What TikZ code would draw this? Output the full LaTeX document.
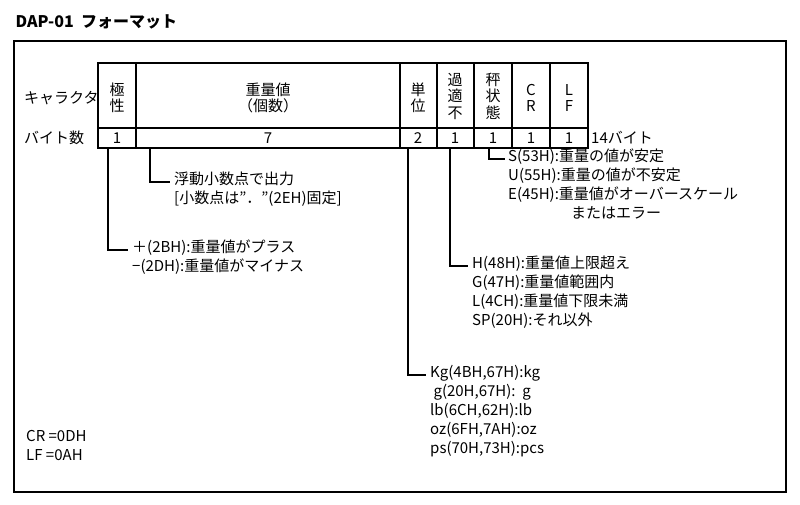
\documentclass[tikz,border=0pt]{standalone}
\usepackage{fontspec}
\setmainfont{Noto Sans CJK JP}
\usetikzlibrary{positioning}
\tikzset{
  lbl/.style={anchor=north west, inner sep=0pt, align=left, font=\fontsize{15}{19}\selectfont},
  cell/.style={font=\fontsize{15}{16.5}\selectfont, align=center, inner sep=0pt},
  lead/.style={line width=1.3pt}
}
\begin{document}
\begin{tikzpicture}[x=1pt,y=-1pt]
\useasboundingbox (0,0) rectangle (800,505);
\node[anchor=west, font=\bfseries\fontsize{16}{18}\selectfont] (title) at (12,22) {DAP-01\ \ フォーマット};
\draw[line width=1.3pt] (14,41) rectangle (786,492);
% table
\draw[line width=1.8pt] (98,63) rectangle (588,148);
\draw[line width=1.8pt] (98,128) -- (588,128);
\foreach \x in {136,400,437,474,512,550} \draw[line width=1.3pt] (\x,63) -- (\x,148);
% header row
\node[lbl, anchor=west] (hdchar) at (24,98) {キャラクタ};
\node[lbl, anchor=west] (hdbyte) at (24,138) {バイト数};
\node[cell] (pol) at (117,98) {極\\性};
\node[cell] (wt) at (268,98) {重量値\\（個数）};
\node[cell] (unit) at (418,98) {単\\位};
\node[cell] (ovr) at (455,96) {過\\適\\不};
\node[cell] (st) at (493,96) {秤\\状\\態};
\node[cell] (cr) at (531,98) {C\\R};
\node[cell] (lf) at (569,98) {L\\F};
\node[cell] (b1) at (117,138) {1};
\node[cell] (b2) at (268,138) {7};
\node[cell] (b3) at (418,138) {2};
\node[cell] (b4) at (455,138) {1};
\node[cell] (b5) at (493,138) {1};
\node[cell] (b6) at (531,138) {1};
\node[cell] (b7) at (569,138) {1};
\node[lbl, anchor=west] (total) at (591,138) {14バイト};
% descriptions
\node[lbl] (stdesc) at (508,149) {S(53H):重量の値が安定\\U(55H):重量の値が不安定\\E(45H):重量値がオーバースケール\\\hspace{4.2em}またはエラー};
\node[lbl] (wtdesc) at (174,172) {浮動小数点で出力\\{[}小数点は”．”(2EH)固定{]}};
\node[lbl] (poldesc) at (132,240) {＋(2BH):重量値がプラス\\−(2DH):重量値がマイナス};
\node[lbl] (ovrdesc) at (472,256) {H(48H):重量値上限超え\\G(47H):重量値範囲内\\L(4CH):重量値下限未満\\SP(20H):それ以外};
\node[lbl] (unitdesc) at (430,365) {Kg(4BH,67H):kg\\\ g(20H,67H):\ \ g\\lb(6CH,62H):lb\\oz(6FH,7AH):oz\\ps(70H,73H):pcs};
\node[lbl] (crlf) at (26,430) {CR =0DH\\LF =0AH};
% leader ends
\coordinate (stend) at (505,159);
\coordinate (wtend) at (170,182);
\coordinate (polend) at (128,250);
\coordinate (ovrend) at (468,266);
\coordinate (unitend) at (426,375);
% leaders
\draw[lead] (108,148) |- (polend);
\draw[lead] (150,148) |- (wtend);
\draw[lead] (408,148) |- (unitend);
\draw[lead] (450,148) |- (ovrend);
\draw[lead] (489,148) |- (stend);
\end{tikzpicture}
\end{document}
